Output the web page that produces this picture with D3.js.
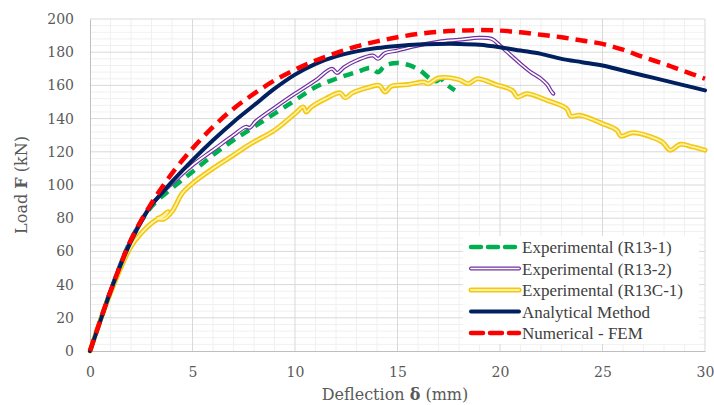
<!DOCTYPE html>
<html>
<head>
<meta charset="utf-8">
<script src="https://cdn.jsdelivr.net/npm/d3@7"></script>
<style>
  body { margin: 0; background: #fff; }
</style>
</head>
<body>
<div id="chart"></div>
<script>
// load-deflection data, [deflection mm, load kN]
const r13_1 = [[0,0],[1,36],[2,67],[3,87],[4,98],[5,108],[6,118],[7,127],[8,135],[9,143],[10,151],[11,159],[12,164],[13,168],[13.7,170.5],[14.05,168],[14.4,172],[15,173.5],[15.6,172],[16.1,169],[16.6,164],[16.9,162.5],[17.1,164],[17.4,160.5],[17.8,157]];
const r13_2 = [[0,0],[1,36],[2,67],[3,88],[4,101],[5,112],[6,121],[7,130],[7.6,135],[7.8,134.5],[8.1,138.5],[9,146.5],[10,155],[11,163],[11.8,170],[12.05,167.5],[12.4,171],[13,175],[13.8,178],[14.05,176],[14.4,179.5],[15,181],[16,184],[17,186.3],[18,187.5],[19,188.7],[19.6,188],[20,184],[20.5,178.5],[21,173],[21.5,168],[22,164],[22.3,160.5],[22.5,156.5],[22.6,155]];
const r13c_1 = [[0,0],[1,35],[2,63],[2.5,71],[3,77],[3.5,81],[3.8,84],[3.6,81],[3.3,80],[3.6,79.5],[4,84],[4.5,95],[5,101],[6,110],[7,118],[7.6,123],[8,126],[9,133],[10,143],[10.4,147],[10.55,144],[10.8,147],[11.5,152],[12.2,155.5],[12.45,152.5],[12.8,155.5],[13.5,158.5],[14.1,160],[14.4,156],[14.7,159.5],[15.5,160.5],[16.3,162],[16.5,161],[17,164.5],[18,163.5],[18.45,161],[18.9,164],[19.8,160.5],[20.6,157],[20.85,153],[21.3,155],[22.3,151],[23.25,146],[23.45,141.5],[23.9,142],[25,137],[25.7,133],[25.9,129.5],[26.5,131.5],[27.9,126],[28.3,121],[28.8,124.5],[29.4,123],[30,121]];
const analytical = [[0,0],[0.5,18],[1,36],[1.5,52],[2,66],[2.5,78],[3,88],[3.5,95],[4,102],[5,115],[6,127],[7,138],[8,148],[9,158],[10,166.5],[11,173],[12,177.5],[13,180.5],[14,182.5],[15,183.8],[16,184.7],[17,185],[18,185],[19,184.5],[20,183],[21,181],[22,179],[23,176],[24,174],[25,172],[26,169],[27,166],[28,163],[29,160],[30,157]];
const fem = [[0,0],[1,36],[2,67],[3,89],[4,107],[5,122],[6,135],[7,146],[8,155],[9,163],[10,169.5],[11,175],[12,179.5],[13,183.5],[14,186.5],[15,189],[16,191],[17,192.3],[18,193],[19,193.3],[20,193],[21,192],[22,190.5],[23,189],[24,187],[25,185],[26,181.5],[27,177],[28,173],[29,168.5],[30,164]];

const seriesNames = ["Experimental (R13-1)", "Experimental (R13-2)", "Experimental (R13C-1)", "Analytical Method", "Numerical - FEM"];
const xTicks = [0, 5, 10, 15, 20, 25, 30];
const yTicks = [0, 20, 40, 60, 80, 100, 120, 140, 160, 180, 200];

const W = 714, H = 405;
const svg = d3.select("#chart").append("svg")
    .attr("width", W)
    .attr("height", H);

const x = d3.scaleLinear().domain([0, 30]).range([90, 705]);
const y = d3.scaleLinear().domain([0, 200]).range([351, 19]);

// minor grid (1 mm, 4 kN)
const grid = svg.append("g");
grid.selectAll(".vminor")
    .data(d3.range(1, 30).filter(d => d % 5 != 0))
    .join("line")
    .attr("x1", d => x(d)).attr("x2", d => x(d))
    .attr("y1", y(0)).attr("y2", y(200))
    .style("stroke", "#f0f0f0").style("stroke-width", 1);
grid.selectAll(".hminor")
    .data(d3.range(4, 200, 4).filter(d => d % 20 != 0))
    .join("line")
    .attr("x1", x(0)).attr("x2", x(30))
    .attr("y1", d => y(d)).attr("y2", d => y(d))
    .style("stroke", "#f0f0f0").style("stroke-width", 1);

// major grid
grid.selectAll(".vmajor")
    .data(xTicks.slice(1))
    .join("line")
    .attr("x1", d => x(d)).attr("x2", d => x(d))
    .attr("y1", y(0)).attr("y2", y(200))
    .style("stroke", "#d9d9d9").style("stroke-width", 1);
grid.selectAll(".hmajor")
    .data(yTicks.slice(1))
    .join("line")
    .attr("x1", x(0)).attr("x2", x(30))
    .attr("y1", d => y(d)).attr("y2", d => y(d))
    .style("stroke", "#d9d9d9").style("stroke-width", 1);

// axes
const xAxis = svg.append("g")
    .attr("transform", `translate(0,${y(0)})`)
    .call(d3.axisBottom(x).tickValues(xTicks).tickSize(0).tickPadding(16));
const yAxis = svg.append("g")
    .attr("transform", `translate(${x(0)},0)`)
    .call(d3.axisLeft(y).tickValues(yTicks).tickSize(0).tickPadding(16));
[xAxis, yAxis].forEach(a => {
    a.select(".domain").style("stroke", "#bfbfbf").style("stroke-width", 1);
    a.selectAll("text")
        .style("font-family", "'DejaVu Serif', serif")
        .style("font-size", "14px")
        .style("fill", "#595959");
});

// axis titles
const xt = svg.append("text")
    .attr("x", 395).attr("y", 400)
    .attr("text-anchor", "middle")
    .style("font-family", "'DejaVu Serif', serif")
    .style("font-size", "16px")
    .style("fill", "#595959");
xt.append("tspan").text("Deflection ");
xt.append("tspan").text("δ").style("font-weight", "bold");
xt.append("tspan").text(" (mm)");

const yt = svg.append("text")
    .attr("transform", "translate(27,185) rotate(-90)")
    .attr("text-anchor", "middle")
    .style("font-family", "'DejaVu Serif', serif")
    .style("font-size", "16px")
    .style("fill", "#595959");
yt.append("tspan").text("Load ");
yt.append("tspan").text("F").style("font-weight", "bold");
yt.append("tspan").text(" (kN)");

// curves
const line = d3.line()
    .x(d => x(d[0]))
    .y(d => y(d[1]))
    .curve(d3.curveCatmullRom.alpha(0.5));

const styles = [
    {data: r13_1, layers: [{c: "#00b050", w: 4.5, dash: "10 7"}]},
    {data: r13_2, layers: [{c: "#7030a0", w: 4}, {c: "#ffffff", w: 1.6}]},
    {data: r13c_1, layers: [{c: "#f2c811", w: 5}, {c: "#fff2a8", w: 1.8}]},
    {data: analytical, layers: [{c: "#002060", w: 4}]},
    {data: fem, layers: [{c: "#ff0000", w: 4.5, dash: "12 7"}]}
];

const plot = svg.append("g");
styles.forEach(s => {
    s.layers.forEach(l => {
        plot.append("path")
            .datum(s.data)
            .attr("d", line)
            .style("fill", "none")
            .style("stroke", l.c)
            .style("stroke-width", l.w)
            .style("stroke-dasharray", l.dash || null)
            .style("stroke-linejoin", "round")
            .style("stroke-linecap", l.dash ? "butt" : "round");
    });
});

// legend
const legend = svg.append("g");
legend.append("rect")
    .attr("x", 463).attr("y", 236)
    .attr("width", 236).attr("height", 108)
    .style("fill", "#ffffff");

styles.forEach((s, i) => {
    const ly = 247 + i * 21.5;
    s.layers.forEach(l => {
        legend.append("line")
            .attr("x1", 471).attr("x2", 519)
            .attr("y1", ly).attr("y2", ly)
            .style("stroke", l.c)
            .style("stroke-width", l.w)
            .style("stroke-dasharray", l.dash || null)
            .style("stroke-linecap", "round");
    });
    legend.append("text")
        .text(seriesNames[i])
        .attr("x", 522).attr("y", ly + 6)
        .style("font-family", "'Liberation Serif', serif")
        .style("font-size", "17px")
        .style("fill", "#404040");
});
</script>
</body>
</html>
